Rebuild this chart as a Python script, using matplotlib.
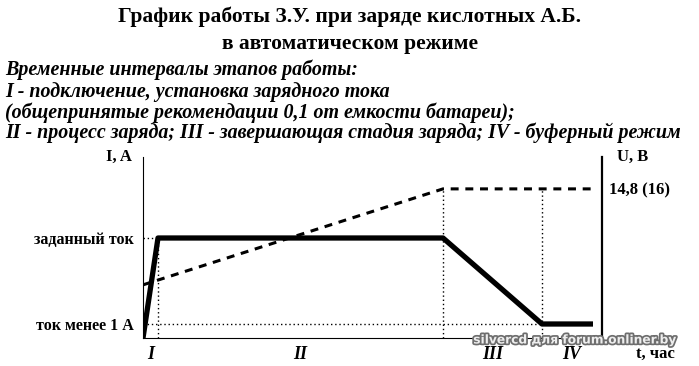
import numpy as np
import matplotlib.pyplot as plt
import matplotlib.patheffects as pe

# время (условные единицы) и ток
t_cur = [0, 0.5, 10, 13.3, 15]
i_cur = [0, 1.0, 1.0, 0.14, 0.14]
# напряжение
t_u = [0, 10, 15.07]
u_val = [12.0, 14.8, 14.8]

i_ticks = [1.0, 0.14]
i_labels = ['заданный ток', 'ток менее 1 А']
u_ticks = [14.8]
u_labels = ['14,8 (16)']
phase_bounds = [0, 0.5, 10, 13.3, 15.3]
phase_names = ['I', 'II', 'III', 'IV']

title1 = 'График работы З.У. при заряде кислотных А.Б.'
title2 = 'в автоматическом режиме'
notes = ['Временные интервалы этапов работы:',
         'I - подключение, установка зарядного тока',
         '(общепринятые рекомендации 0,1 от емкости батареи);',
         'II - процесс заряда; III - завершающая стадия заряда; IV - буферный режим']

serif = 'Liberation Serif'
W, H = 699, 366
fig = plt.figure(figsize=(W / 100, H / 100), dpi=100)

fig.text(0.5, 1 - 17 / H, title1, ha='center', va='center', family=serif,
         weight='bold', fontsize=15.5)
fig.text(0.5, 1 - 44 / H, title2, ha='center', va='center', family=serif,
         weight='bold', fontsize=15.5)
for k, s in enumerate(notes):
    fig.text(5 / W, 1 - [70, 92, 113, 133][k] / H, s, ha='left', va='center',
             family=serif, weight='bold', style='italic', fontsize=14.4)

ax = fig.add_axes([143 / W, 1 - 338 / H, (602 - 143) / W, (338 - 157) / H])
ax.set_xlim(0, 15.3)
ax.set_ylim(0, 1.81)
ax.plot(t_cur, i_cur, color='black', lw=3.8, solid_capstyle='butt', zorder=3)

dot = dict(color='black', lw=1, ls=(0, (1, 2)))
ax.plot([0, t_cur[1]], [i_cur[1], i_cur[1]], **dot)
ax.plot([t_cur[1], t_cur[1]], [0, i_cur[1]], **dot)
ax.plot([0, t_cur[3]], [i_cur[3], i_cur[3]], **dot)

ax.spines['top'].set_visible(False)
ax.spines['right'].set_visible(False)
ax.spines['left'].set_linewidth(0.8)
ax.spines['bottom'].set_linewidth(0.8)
ax.set_yticks(i_ticks)
ax.set_yticklabels(i_labels, family=serif, weight='bold', fontsize=11.5)
mids = [(a + b) / 2 for a, b in zip(phase_bounds[:-1], phase_bounds[1:])]
ax.set_xticks(mids)
ax.set_xticklabels(phase_names, family=serif, weight='bold', style='italic', fontsize=13)
ax.tick_params(axis='both', length=0)
ax.tick_params(axis='y', pad=7)
ax.tick_params(axis='x', pad=6)

ax2 = ax.twinx()
ax2.set_ylim(10.45, 15.73)
ax2.plot(t_u, u_val, color='black', lw=2.2, ls=(0, (2.6, 2.2)), zorder=2)
ax2.plot([t_u[1], t_u[1]], [10.45, u_val[1]], **dot)
ax2.plot([t_cur[3], t_cur[3]], [10.45, u_val[2]], **dot)
for s in ['top', 'left', 'bottom']:
    ax2.spines[s].set_visible(False)
ax2.spines['right'].set_linewidth(1.6)
ax2.set_yticks(u_ticks)
ax2.set_yticklabels(u_labels, family=serif, weight='bold', fontsize=12)
ax2.tick_params(axis='y', length=0, pad=5)

ax.text(-0.025, 1.0, 'I, A', transform=ax.transAxes, ha='right', va='center',
        family=serif, weight='bold', fontsize=12)
ax2.text(1.033, 1.0, 'U, B', transform=ax.transAxes, ha='left', va='center',
         family=serif, weight='bold', fontsize=12)
ax.text(1.075, -0.09, 't, час', transform=ax.transAxes, ha='left', va='center',
        family=serif, weight='bold', fontsize=12)

fig.text(575 / W, 1 - 340 / H, 'silvercd для forum.onliner.by', ha='center',
         va='center', weight='bold', fontsize=8.8, color='#eeeeee',
         path_effects=[pe.withStroke(linewidth=2.5, foreground='#6e6e6e')])

fig.savefig('out.png', dpi=100)
